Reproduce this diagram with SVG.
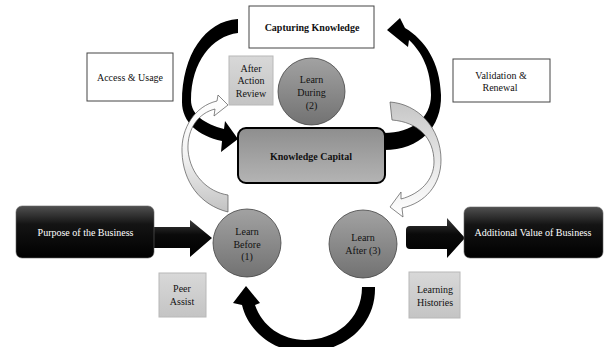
<svg xmlns="http://www.w3.org/2000/svg" width="605" height="347" viewBox="0 0 605 347">
<defs>
<linearGradient id="gBlack" x1="0" y1="0" x2="0" y2="1">
<stop offset="0" stop-color="#505050"/><stop offset="0.35" stop-color="#141414"/><stop offset="1" stop-color="#000"/>
</linearGradient>
<linearGradient id="gArrowBlk" x1="0" y1="0" x2="0" y2="1">
<stop offset="0" stop-color="#3c3c3c"/><stop offset="0.4" stop-color="#0a0a0a"/><stop offset="1" stop-color="#000"/>
</linearGradient>
<linearGradient id="gCircle" x1="0" y1="0" x2="0" y2="1">
<stop offset="0" stop-color="#a2a2a2"/><stop offset="1" stop-color="#727272"/>
</linearGradient>
<linearGradient id="gKC" x1="0" y1="0" x2="0" y2="1">
<stop offset="0" stop-color="#8e8e8e"/><stop offset="1" stop-color="#b4b4b4"/>
</linearGradient>
<linearGradient id="gLight" x1="0" y1="0" x2="0" y2="1">
<stop offset="0" stop-color="#d8d8d8"/><stop offset="1" stop-color="#c4c4c4"/>
</linearGradient>
<linearGradient id="gArrL" x1="0" y1="0" x2="0" y2="1">
<stop offset="0" stop-color="#ffffff"/><stop offset="0.5" stop-color="#f4f4f4"/><stop offset="1" stop-color="#c2c2c2"/>
</linearGradient>
<linearGradient id="gArrR" x1="0" y1="0" x2="0" y2="1">
<stop offset="0" stop-color="#c6c6c6"/><stop offset="0.5" stop-color="#e6e6e6"/><stop offset="1" stop-color="#ffffff"/>
</linearGradient>
</defs>
<style>
text{font-family:"Liberation Serif","Times New Roman",serif;font-size:10px;text-anchor:middle;fill:#111}
.b{font-weight:bold}
.w{fill:#fff}
.wbox{fill:#fff;stroke:#444;stroke-width:1}
.lbox{fill:url(#gLight);stroke:#b8b8b8;stroke-width:1}
.circ{fill:url(#gCircle);stroke:#444;stroke-width:0.8}
.blk{fill:url(#gBlack);stroke:#666;stroke-width:0.6}
.curve{fill:#000}
.la{fill:url(#gArrL);stroke:#555;stroke-width:0.7}
.ra{fill:url(#gArrR);stroke:#555;stroke-width:0.7}
.ba{fill:url(#gArrowBlk)}
</style>

<g id="connectors">
<path class="curve" d="M238,19 C205,21 182,55 182,102 C182,122 198,136 222,141 L221,152 L238,139 L225,121 L224,129 C205,124 191,115 191,100 C191,62 212,36 238,33 Z"/>
<path class="curve" d="M384,150 C420,150 442,127 441,95 C440,62 425,40 405,28 L400,18 L387,30 L408,47 L409,40 C422,52 431,70 431,95 C431,118 412,133 384,133 Z"/>
<path class="curve" d="M375,287 C376,325 345,352 305,352 C272,352 248,330 242,305 L233,303 L246,286 L260,303 L255,305 C262,326 282,340 305,340 C335,340 362,320 362,287 Z"/>
<path class="la" d="M217,101 C195,106 181,128 182,152 C183,182 200,205 228,212 L228,195 C208,192 190,175 188,150 C187,128 199,113 215,109 L214,116 L228,105 L218,95 Z"/>
<path class="ra" d="M390,102 C418,104 441,128 441,160 C441,185 425,203 402,208 L403,217 L390,207 L401,192 L401,199 C420,194 434,180 434,162 C434,138 418,122 392,120 Z"/>
<path class="ba" d="M154,227 L190,227 L190,220 L212,238 L190,257 L190,248 L154,248 Z"/>
<path class="ba" d="M410,226 L447,226 L447,218 L465,238 L447,258 L447,249 L410,249 Q406,249 406,245 L406,230 Q406,226 410,226 Z"/>
</g>

<g id="capturing">
<rect class="wbox" x="249" y="6" width="125" height="42"/>
<text class="b" x="312" y="30.5">Capturing Knowledge</text>
</g>
<g id="access">
<rect class="wbox" x="87" y="53" width="86" height="48"/>
<text x="130" y="80.5">Access &amp; Usage</text>
</g>
<g id="validation">
<rect class="wbox" x="453" y="59" width="97" height="43"/>
<text x="501" y="78.5">Validation &amp;</text>
<text x="500" y="90.5">Renewal</text>
</g>
<g id="aar">
<rect class="lbox" x="229" y="56" width="44" height="49"/>
<text x="251" y="71.5">After</text>
<text x="251" y="84">Action</text>
<text x="251" y="96.5">Review</text>
</g>
<g id="learn-during">
<circle class="circ" cx="311.5" cy="91.5" r="33.5"/>
<text x="311.5" y="83">Learn</text>
<text x="311.5" y="96">During</text>
<text x="311.5" y="108.5">(2)</text>
</g>
<g id="knowledge-capital">
<rect x="238" y="128" width="147" height="55" rx="8" fill="url(#gKC)" stroke="#000" stroke-width="2"/>
<text class="b" x="311" y="159.5">Knowledge Capital</text>
</g>
<g id="purpose">
<rect class="blk" x="16" y="206" width="138" height="52" rx="6"/>
<text class="w" x="85.5" y="235.5">Purpose of the Business</text>
</g>
<g id="learn-before">
<circle class="circ" cx="247" cy="243" r="34"/>
<text x="247" y="234.5">Learn</text>
<text x="247" y="247.5">Before</text>
<text x="247" y="259.5">(1)</text>
</g>
<g id="learn-after">
<circle class="circ" cx="363" cy="244" r="34"/>
<text x="363" y="240.5">Learn</text>
<text x="363" y="253.5">After (3)</text>
</g>
<g id="additional">
<rect class="blk" x="464" y="207" width="139" height="51" rx="6"/>
<text class="w" x="533" y="235.5">Additional Value of Business</text>
</g>
<g id="peer-assist">
<rect class="lbox" x="159" y="273" width="47" height="44"/>
<text x="182" y="291.5">Peer</text>
<text x="182" y="304.5">Assist</text>
</g>
<g id="learning-histories">
<rect class="lbox" x="409" y="272" width="51" height="46"/>
<text x="435" y="292.5">Learning</text>
<text x="435" y="305.5">Histories</text>
</g>
</svg>
